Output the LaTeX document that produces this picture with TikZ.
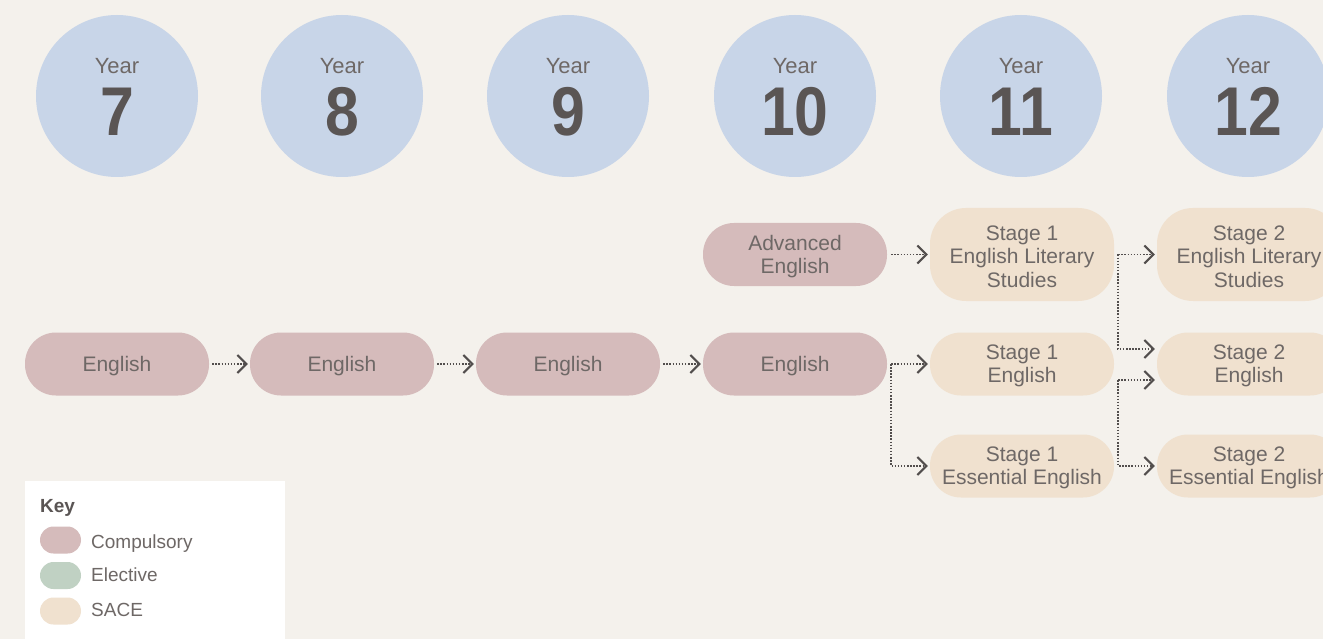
\documentclass[tikz,border=0pt]{standalone}
\usepackage{fontspec}
\usepackage{graphicx}
\setmainfont{Liberation Sans}
\usetikzlibrary{arrows.meta,positioning}
\definecolor{bg}{HTML}{F4F1EC}
\definecolor{yearblue}{HTML}{C8D5E8}
\definecolor{comp}{HTML}{D5BBBB}
\definecolor{elec}{HTML}{C0D1C3}
\definecolor{sace}{HTML}{F0E1CF}
\definecolor{txt}{HTML}{6E6866}
\definecolor{numtxt}{HTML}{5A5554}
\definecolor{arr}{HTML}{524E4D}
\tikzset{
  yearcirc/.style={circle, fill=yearblue, minimum size=162pt, inner sep=0pt},
  yeartxt/.style={anchor=base, text=txt, font=\fontsize{22}{22}\selectfont, inner sep=0pt},
  numtxt/.style={anchor=base, text=numtxt, font=\fontsize{69}{69}\selectfont\bfseries, inner sep=0pt},
  pill/.style={rectangle, rounded corners=31pt, minimum width=184pt, minimum height=63pt, inner sep=0pt},
  ptext/.style={align=center, text=txt, font=\fontsize{21}{23.5}\selectfont, inner sep=0pt, yshift=-2pt},
  comppill/.style={pill, fill=comp},
  sacepill/.style={pill, fill=sace},
  tallpill/.style={sacepill, minimum height=93pt, rounded corners=36pt},
  conn/.style={draw=arr, line width=1.6pt, dash pattern=on 1.5pt off 1.6pt,
    -{Straight Barb[length=9pt,width=18pt,line width=2pt]}},
  keypill/.style={rectangle, rounded corners=13.5pt, minimum width=41pt, minimum height=27pt, inner sep=0pt},
  keytxt/.style={anchor=base west, text=txt, font=\fontsize{19}{19}\selectfont, inner sep=0pt},
}
\begin{document}
\begin{tikzpicture}[x=1pt,y=-1pt]
\useasboundingbox (0,0) rectangle (1323,639);
\fill[bg] (0,0) rectangle (1323,639);

% year circles
\foreach \n/\x in {7/117,8/342,9/568,10/795,11/1021,12/1248}{
  \node[yearcirc] (y\n) at (\x,96) {};
  \node[yeartxt] (yl\n) at (\x,74) {Year};
  \node[numtxt] (yn\n) at (\x,135.5) {\scalebox{0.88}[1]{\n}};
}

% compulsory English row
\node[comppill, label={[ptext]center:English}] (e7)  at (117,364) {};
\node[comppill, label={[ptext]center:English}] (e8)  at (342,364) {};
\node[comppill, label={[ptext]center:English}] (e9)  at (568,364) {};
\node[comppill, label={[ptext]center:English}] (e10) at (795,364) {};
\node[comppill, label={[ptext]center:Advanced\\English}] (adv) at (795,254.5) {};

% stage 1
\node[tallpill, label={[ptext]center:Stage 1\\English Literary\\Studies}] (s1lit) at (1022,254.5) {};
\node[sacepill, label={[ptext]center:Stage 1\\English}] (s1eng) at (1022,364) {};
\node[sacepill, label={[ptext]center:Stage 1\\Essential English}] (s1ess) at (1022,466) {};

% stage 2
\node[tallpill, label={[ptext]center:Stage 2\\English Literary\\Studies}] (s2lit) at (1249,254.5) {};
\node[sacepill, label={[ptext]center:Stage 2\\English}] (s2eng) at (1249,364) {};
\node[sacepill, label={[ptext]center:Stage 2\\Essential English}] (s2ess) at (1249,466) {};

% connectors
\draw[conn] ([xshift=3pt]e7.east) -- ([xshift=-2pt]e8.west);
\draw[conn] ([xshift=3pt]e8.east) -- ([xshift=-2pt]e9.west);
\draw[conn] ([xshift=3pt]e9.east) -- ([xshift=-2pt]e10.west);
\draw[conn] ([xshift=4pt]adv.east) -- ([xshift=-2pt]s1lit.west);
\draw[conn] ([xshift=4pt]e10.east) -- ([xshift=-2pt]s1eng.west);
\draw[conn] ([xshift=4pt]e10.east) |- ([xshift=-2pt]s1ess.west);
\draw[conn] ([xshift=4pt]s1lit.east) -- ([xshift=-2pt]s2lit.west);
\draw[conn] ([xshift=4pt]s1lit.east) |- ([xshift=-2pt,yshift=15pt]s2eng.west);
\draw[conn] ([xshift=4pt,yshift=-16pt]s1eng.east) -- ([xshift=-2pt,yshift=-16pt]s2eng.west);
\draw[conn] ([xshift=4pt,yshift=-16pt]s1eng.east) |- ([xshift=-2pt]s2ess.west);

% key
\fill[white] (25,481) rectangle (285,639);
\node[anchor=base west, text=numtxt, font=\fontsize{19}{19}\selectfont\bfseries, inner sep=0pt] (keyt) at (40,512.5) {Key};
\node[keypill, fill=comp] (kc) at (60.5,540) {};
\node[keypill, fill=elec] (ke) at (60.5,575.5) {};
\node[keypill, fill=sace] (ks) at (60.5,611) {};
\node[keytxt] (kct) at (91,548) {Compulsory};
\node[keytxt] (ket) at (91,581.5) {Elective};
\node[keytxt] (kst) at (91,616.5) {SACE};
\end{tikzpicture}
\end{document}
